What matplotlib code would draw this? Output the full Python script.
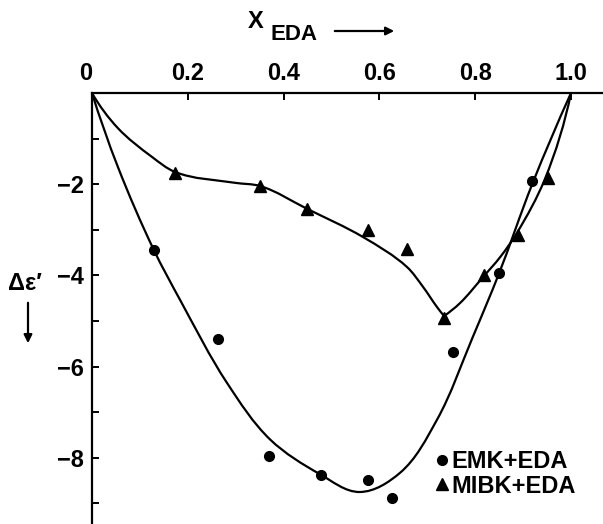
import numpy as np
import matplotlib
matplotlib.use("Agg")
import matplotlib.pyplot as plt
from matplotlib.path import Path
from matplotlib.patches import PathPatch, FancyArrowPatch

plt.rcParams['font.family'] = ['Liberation Sans', 'DejaVu Sans']
plt.rcParams['font.weight'] = 'bold'

# measured points, EMK + EDA
emk_x = [0.129, 0.263, 0.370, 0.478, 0.576, 0.626, 0.754, 0.850, 0.919]
emk_y = [-3.44, -5.39, -7.95, -8.38, -8.49, -8.89, -5.68, -3.95, -1.92]

# measured points, MIBK + EDA
mibk_x = [0.173, 0.351, 0.449, 0.576, 0.658, 0.735, 0.818, 0.889, 0.952]
mibk_y = [-1.75, -2.05, -2.55, -3.01, -3.43, -4.93, -4.00, -3.12, -1.86]

# hand-drawn fit curves (knots along each line)
emk_fit_x = [0.0, 0.054, 0.129, 0.184, 0.282, 0.372, 0.476, 0.559, 0.643,
             0.720, 0.795, 0.850, 0.919, 1.0]
emk_fit_y = [0.0, -1.62, -3.44, -4.54, -6.36, -7.60, -8.36, -8.75, -8.33,
             -7.17, -5.35, -3.95, -2.00, 0.0]

# MIBK curve has a sharp corner at its minimum, so it is drawn in two pieces
mibk_fit_left_x = [0.0, 0.054, 0.125, 0.173, 0.299, 0.351, 0.449, 0.566,
                   0.658, 0.691, 0.720, 0.735]
mibk_fit_left_y = [0.0, -0.77, -1.40, -1.73, -1.97, -2.04, -2.54, -3.16,
                   -3.82, -4.25, -4.69, -4.89]
mibk_fit_right_x = [0.735, 0.768, 0.816, 0.852, 0.887, 0.945, 1.0]
mibk_fit_right_y = [-4.89, -4.61, -4.04, -3.60, -3.07, -1.90, 0.0]

x_ticks = [0, 0.2, 0.4, 0.6, 0.8, 1.0]
x_tick_labels = ['0', '0.2', '0.4', '0.6', '0.8', '1.0']
y_ticks = [-2, -4, -6, -8]
y_tick_labels = ['\u22122', '\u22124', '\u22126', '\u22128']
y_minor = [-1, -3, -5, -7, -9]

PX_X, PX_Y = 479.0, 45.6  # pixels per data unit


def unit(v):
    return v / np.hypot(*v)


def smooth_path(xs, ys):
    # cubic beziers through the knots; tangents follow the neighbouring
    # chords, measured on screen so uneven spacing doesn't make kinks
    scale = np.array([PX_X, PX_Y])
    pts = np.column_stack([xs, ys]).astype(float) * scale
    n = len(pts)
    tang = np.zeros_like(pts)
    for i in range(1, n - 1):
        tang[i] = unit(unit(pts[i + 1] - pts[i]) + unit(pts[i] - pts[i - 1]))
    # free ends: mirror the neighbouring tangent about the end chord
    c0 = unit(pts[1] - pts[0])
    tang[0] = unit(2 * np.dot(c0, tang[1]) * c0 - tang[1])
    c1 = unit(pts[-1] - pts[-2])
    tang[-1] = unit(2 * np.dot(c1, tang[-2]) * c1 - tang[-2])
    verts = [pts[0]]
    codes = [Path.MOVETO]
    for i in range(n - 1):
        L = np.hypot(*(pts[i + 1] - pts[i])) / 3
        verts += [pts[i] + tang[i] * L, pts[i + 1] - tang[i + 1] * L,
                  pts[i + 1]]
        codes += [Path.CURVE4] * 3
    return Path(np.array(verts) / scale, codes)


W, H = 603, 524
fig = plt.figure(figsize=(W / 100, H / 100), dpi=100)
ax = fig.add_axes([92 / W, 0, (W - 92) / W, (H - 93) / H])

ax.set_xlim(0, (W - 92) / PX_X)
ax.set_ylim(-(H - 93) / PX_Y, 0)

for xs, ys in [(emk_fit_x, emk_fit_y), (mibk_fit_left_x, mibk_fit_left_y),
               (mibk_fit_right_x, mibk_fit_right_y)]:
    ax.add_patch(PathPatch(smooth_path(xs, ys), fill=False, lw=1.6,
                           edgecolor='black', capstyle='round',
                           joinstyle='round'))

ax.plot(emk_x, emk_y, 'o', color='black', ms=7, clip_on=False,
        label='EMK+EDA')
ax.plot(mibk_x, mibk_y, '^', color='black', ms=8.5, clip_on=False,
        label='MIBK+EDA')

for s in ['right', 'bottom']:
    ax.spines[s].set_visible(False)
for s in ['left', 'top']:
    ax.spines[s].set_linewidth(1.6)

ax.xaxis.tick_top()
ax.set_xticks(x_ticks)
ax.set_xticklabels(x_tick_labels)
ax.set_yticks(y_ticks)
ax.set_yticklabels(y_tick_labels)
ax.set_yticks(y_minor, minor=True)
ax.tick_params(axis='both', which='both', direction='in', length=5,
               width=1.4, labelsize=17, pad=6)
# the "0" sits just left of the corner
ax.get_xticklabels()[0].set_horizontalalignment('right')

# axis labels with their arrows
fig.text(256 / W, 1 - 21 / H, 'X', ha='center', va='center', fontsize=17)
fig.text(294 / W, 1 - 34 / H, 'EDA', ha='center', va='center', fontsize=16)
fig.patches.append(FancyArrowPatch(
    (332 / W, 1 - 31 / H), (397 / W, 1 - 31 / H),
    transform=fig.transFigure, arrowstyle='-|>', mutation_scale=12,
    lw=1.6, color='black'))

fig.text(8 / W, 1 - 283 / H, '\u0394\u03b5\u2032', ha='left', va='center',
         fontsize=17)
fig.patches.append(FancyArrowPatch(
    (28 / W, 1 - 300 / H), (28 / W, 1 - 346 / H),
    transform=fig.transFigure, arrowstyle='-|>', mutation_scale=12,
    lw=1.6, color='black'))

ax.legend(loc='center left', bbox_to_anchor=(436 / W, 1 - 474 / H),
          bbox_transform=fig.transFigure, frameon=False, fontsize=17,
          handlelength=0.5, handletextpad=0.15, labelspacing=0.05,
          borderpad=0, borderaxespad=0)

fig.savefig('out.png', dpi=100)
